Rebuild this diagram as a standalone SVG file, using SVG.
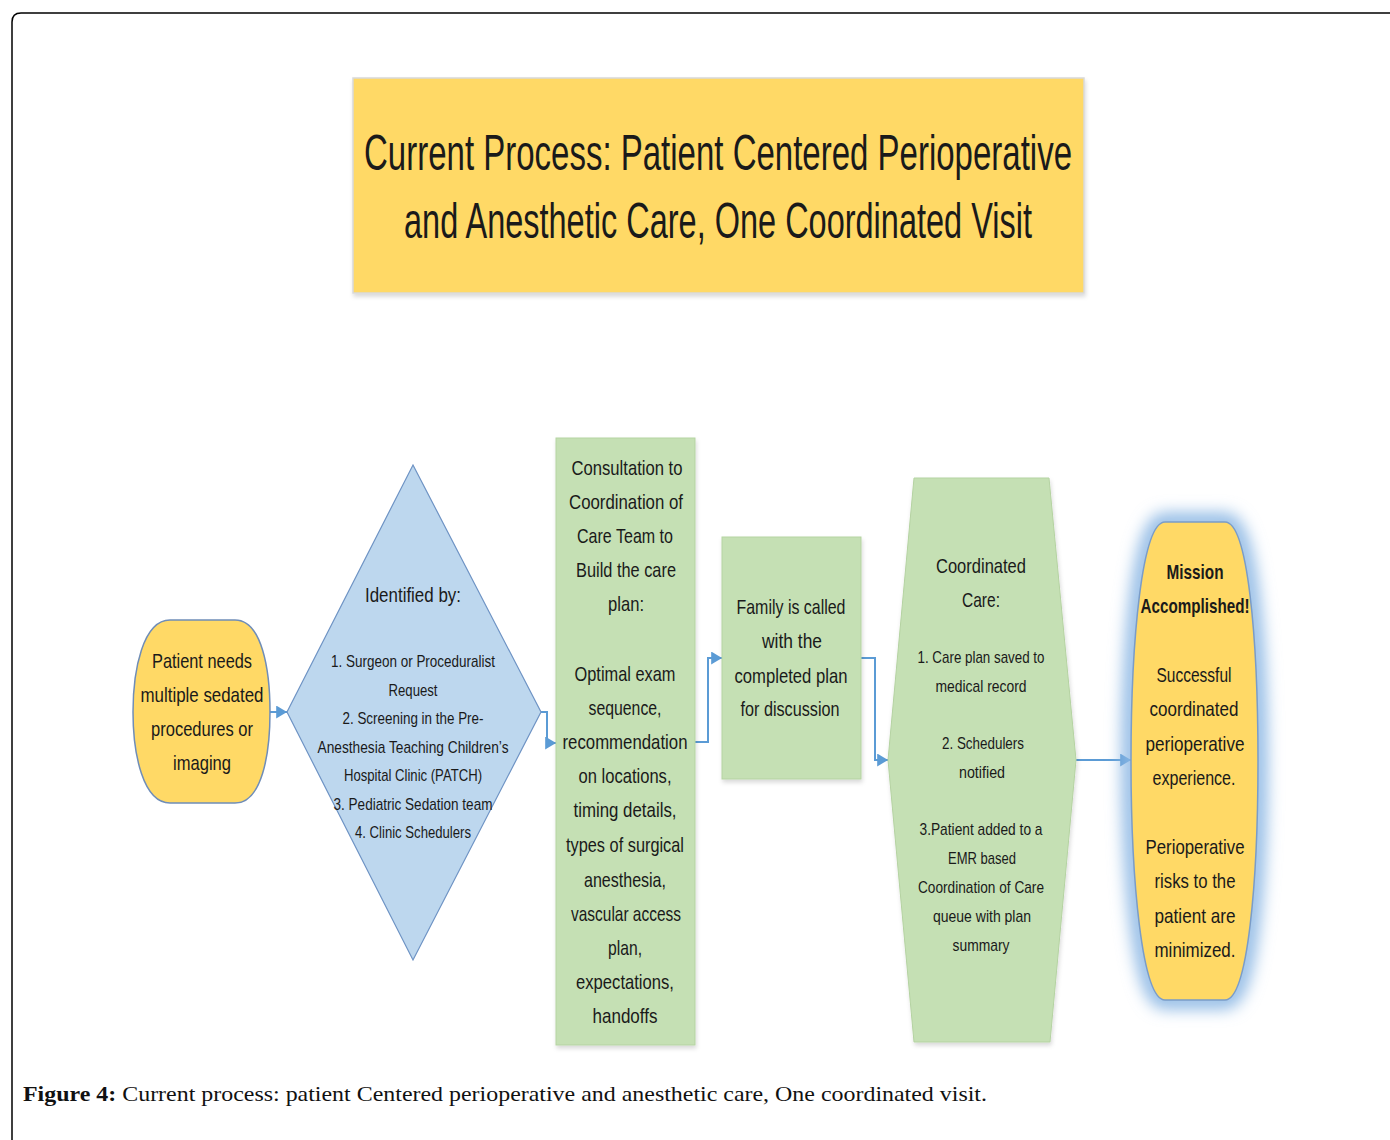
<svg xmlns="http://www.w3.org/2000/svg" width="1390" height="1140" viewBox="0 0 1390 1140">
<defs>
<style>
.t{font-family:"Liberation Sans",Arial,sans-serif;fill:#1a1a1a;text-anchor:middle}
.b{font-size:21px}
.s{font-size:17px}
.bold{font-weight:bold}
.yel{fill:#FFD966}
.grn{fill:#C5E0B4;stroke:#B5D3A2;stroke-width:1}
.conn{fill:none;stroke:#5B9BD5;stroke-width:2}
</style>
<marker id="ah" viewBox="0 0 10 12" refX="10" refY="6" markerWidth="11" markerHeight="13" markerUnits="userSpaceOnUse" orient="auto">
<path d="M0,0 L10,6 L0,12 Z" fill="#5B9BD5"/>
</marker>
<filter id="sh" x="-10%" y="-10%" width="120%" height="120%">
<feDropShadow dx="1" dy="3" stdDeviation="2" flood-color="#000" flood-opacity="0.15"/>
</filter>
<filter id="glow" x="-50%" y="-20%" width="200%" height="140%">
<feGaussianBlur stdDeviation="8"/>
</filter>
</defs>
<rect width="1390" height="1140" fill="#fff"/>
<path d="M12,1140 L12,22 Q12,13 21,13 L1390,13" fill="none" stroke="#000" stroke-width="1.5"/>

<g id="title">
<rect x="353" y="78" width="731" height="215" fill="#FFD966" stroke="#d9d9d9" stroke-width="1.5" filter="url(#sh)"/>
<text class="t" font-size="50" transform="translate(718,170) scale(0.66,1)">Current Process:  Patient Centered Perioperative</text>
<text class="t" font-size="50" transform="translate(718,238) scale(0.65,1)">and Anesthetic Care, One Coordinated Visit</text>
</g>

<g id="connectors">
<path class="conn" d="M270,712 L287,712" marker-end="url(#ah)"/>
<path class="conn" d="M541,712 L547,712 L547,743 L556,743" marker-end="url(#ah)"/>
<path class="conn" d="M695,742 L708,742 L708,658 L722,658" marker-end="url(#ah)"/>
<path class="conn" d="M861,658 L875,658 L875,760 L888,760" marker-end="url(#ah)"/>
<path class="conn" d="M1076,760 L1131,760" marker-end="url(#ah)"/>
</g>

<g id="patient">
<path d="M170,620 L235,620 C262,620 270,670 270,712 C270,754 262,803 235,803 L170,803 C143,803 133,754 133,712 C133,670 143,620 170,620 Z" class="yel" stroke="#6F8DB8" stroke-width="1.5"/>
<text class="t b" x="202" y="668" textLength="100" lengthAdjust="spacingAndGlyphs">Patient needs</text>
<text class="t b" x="202" y="702" textLength="123" lengthAdjust="spacingAndGlyphs">multiple sedated</text>
<text class="t b" x="202" y="736" textLength="102" lengthAdjust="spacingAndGlyphs">procedures or</text>
<text class="t b" x="202" y="770" textLength="58" lengthAdjust="spacingAndGlyphs">imaging</text>
</g>

<g id="identified">
<polygon points="413,465 541,712 413,960 287,712" fill="#BDD7EE" stroke="#6E93C4" stroke-width="1.2"/>
<text class="t b" x="413" y="602" textLength="96" lengthAdjust="spacingAndGlyphs">Identified by:</text>
<text class="t s" x="413" y="667" textLength="164" lengthAdjust="spacingAndGlyphs">1. Surgeon or Proceduralist</text>
<text class="t s" x="413" y="696" textLength="49" lengthAdjust="spacingAndGlyphs">Request</text>
<text class="t s" x="413" y="724" textLength="141" lengthAdjust="spacingAndGlyphs">2. Screening in the Pre-</text>
<text class="t s" x="413" y="753" textLength="191" lengthAdjust="spacingAndGlyphs">Anesthesia Teaching  Children’s</text>
<text class="t s" x="413" y="781" textLength="138" lengthAdjust="spacingAndGlyphs">Hospital Clinic (PATCH)</text>
<text class="t s" x="413" y="810" textLength="159" lengthAdjust="spacingAndGlyphs">3. Pediatric Sedation team</text>
<text class="t s" x="413" y="838" textLength="116" lengthAdjust="spacingAndGlyphs">4. Clinic Schedulers</text>
</g>

<g id="consultation">
<rect x="556" y="438" width="139" height="607" class="grn" filter="url(#sh)"/>
<text class="t b" x="627" y="475" textLength="111" lengthAdjust="spacingAndGlyphs">Consultation to</text>
<text class="t b" x="626" y="509" textLength="114" lengthAdjust="spacingAndGlyphs">Coordination of</text>
<text class="t b" x="625" y="543" textLength="96" lengthAdjust="spacingAndGlyphs">Care Team to</text>
<text class="t b" x="626" y="577" textLength="100" lengthAdjust="spacingAndGlyphs">Build the care</text>
<text class="t b" x="626" y="611" textLength="36" lengthAdjust="spacingAndGlyphs">plan:</text>
<text class="t b" x="625" y="681" textLength="101" lengthAdjust="spacingAndGlyphs">Optimal exam</text>
<text class="t b" x="625" y="715" textLength="73" lengthAdjust="spacingAndGlyphs">sequence,</text>
<text class="t b" x="625" y="749" textLength="125" lengthAdjust="spacingAndGlyphs">recommendation</text>
<text class="t b" x="625" y="783" textLength="93" lengthAdjust="spacingAndGlyphs">on locations,</text>
<text class="t b" x="625" y="817" textLength="103" lengthAdjust="spacingAndGlyphs">timing details,</text>
<text class="t b" x="625" y="852" textLength="118" lengthAdjust="spacingAndGlyphs">types of surgical</text>
<text class="t b" x="625" y="887" textLength="82" lengthAdjust="spacingAndGlyphs">anesthesia,</text>
<text class="t b" x="626" y="921" textLength="110" lengthAdjust="spacingAndGlyphs">vascular access</text>
<text class="t b" x="625" y="955" textLength="34" lengthAdjust="spacingAndGlyphs">plan,</text>
<text class="t b" x="625" y="989" textLength="98" lengthAdjust="spacingAndGlyphs">expectations,</text>
<text class="t b" x="625" y="1023" textLength="65" lengthAdjust="spacingAndGlyphs">handoffs</text>
</g>

<g id="family">
<rect x="722" y="537" width="139" height="242" class="grn" filter="url(#sh)"/>
<text class="t b" x="791" y="614" textLength="109" lengthAdjust="spacingAndGlyphs">Family is called</text>
<text class="t b" x="792" y="648" textLength="60" lengthAdjust="spacingAndGlyphs">with the</text>
<text class="t b" x="791" y="683" textLength="113" lengthAdjust="spacingAndGlyphs">completed plan</text>
<text class="t b" x="790" y="716" textLength="99" lengthAdjust="spacingAndGlyphs">for discussion</text>
</g>

<g id="coordinated">
<polygon points="914,478 1049,478 1076,760 1050,1042 914,1042 888,760" class="grn" filter="url(#sh)"/>
<text class="t b" x="981" y="573" textLength="90" lengthAdjust="spacingAndGlyphs">Coordinated</text>
<text class="t b" x="981" y="607" textLength="38" lengthAdjust="spacingAndGlyphs">Care:</text>
<text class="t s" x="981" y="663" textLength="127" lengthAdjust="spacingAndGlyphs">1. Care plan saved to</text>
<text class="t s" x="981" y="692" textLength="91" lengthAdjust="spacingAndGlyphs">medical record</text>
<text class="t s" x="983" y="749" textLength="82" lengthAdjust="spacingAndGlyphs">2. Schedulers</text>
<text class="t s" x="982" y="778" textLength="46" lengthAdjust="spacingAndGlyphs">notified</text>
<text class="t s" x="981" y="835" textLength="123" lengthAdjust="spacingAndGlyphs">3.Patient added to a</text>
<text class="t s" x="982" y="864" textLength="68" lengthAdjust="spacingAndGlyphs">EMR based</text>
<text class="t s" x="981" y="893" textLength="126" lengthAdjust="spacingAndGlyphs">Coordination of Care</text>
<text class="t s" x="982" y="922" textLength="98" lengthAdjust="spacingAndGlyphs">queue with plan</text>
<text class="t s" x="981" y="951" textLength="57" lengthAdjust="spacingAndGlyphs">summary</text>
</g>

<g id="mission">
<path d="M1165,522 L1225,522 C1248,522 1258,640 1258,761 C1258,880 1248,1000 1225,1000 L1165,1000 C1142,1000 1131,880 1131,761 C1131,640 1142,522 1165,522 Z" fill="none" stroke="#8DB8E4" stroke-width="18" filter="url(#glow)"/>
<path d="M1165,522 L1225,522 C1248,522 1258,640 1258,761 C1258,880 1248,1000 1225,1000 L1165,1000 C1142,1000 1131,880 1131,761 C1131,640 1142,522 1165,522 Z" class="yel" stroke="#7A9CC8" stroke-width="1.5"/>
<text class="t b bold" x="1195" y="579" textLength="57" lengthAdjust="spacingAndGlyphs">Mission</text>
<text class="t b bold" x="1195" y="613" textLength="109" lengthAdjust="spacingAndGlyphs">Accomplished!</text>
<text class="t b" x="1194" y="682" textLength="75" lengthAdjust="spacingAndGlyphs">Successful</text>
<text class="t b" x="1194" y="716" textLength="89" lengthAdjust="spacingAndGlyphs">coordinated</text>
<text class="t b" x="1195" y="751" textLength="99" lengthAdjust="spacingAndGlyphs">perioperative</text>
<text class="t b" x="1194" y="785" textLength="83" lengthAdjust="spacingAndGlyphs">experience.</text>
<text class="t b" x="1195" y="854" textLength="99" lengthAdjust="spacingAndGlyphs">Perioperative</text>
<text class="t b" x="1195" y="888" textLength="81" lengthAdjust="spacingAndGlyphs">risks to the</text>
<text class="t b" x="1195" y="923" textLength="81" lengthAdjust="spacingAndGlyphs">patient are</text>
<text class="t b" x="1195" y="957" textLength="81" lengthAdjust="spacingAndGlyphs">minimized.</text>
</g>

<text x="23" y="1101" font-family="Liberation Serif,Times New Roman,serif" font-size="22" fill="#111" textLength="964" lengthAdjust="spacingAndGlyphs"><tspan font-weight="bold">Figure 4:</tspan> Current process: patient Centered perioperative and anesthetic care, One coordinated visit.</text>
</svg>
